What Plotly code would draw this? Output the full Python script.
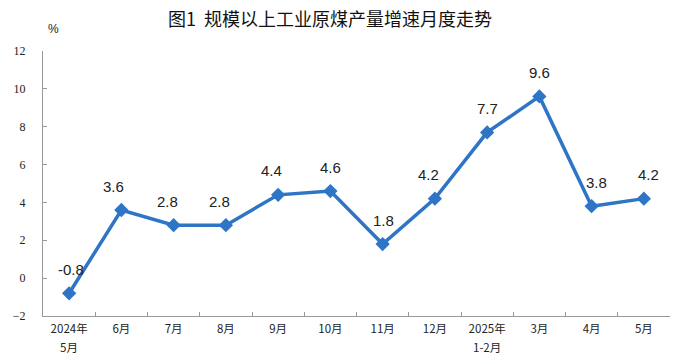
import plotly.graph_objects as go

categories = ["2024年5月", "6月", "7月", "8月", "9月", "10月", "11月", "12月",
              "2025年1-2月", "3月", "4月", "5月"]
tick_line1 = ["2024年", "6月", "7月", "8月", "9月", "10月", "11月", "12月",
              "2025年", "3月", "4月", "5月"]
tick_line2 = ["5月", "", "", "", "", "", "", "", "1-2月", "", "", ""]
values = [-0.8, 3.6, 2.8, 2.8, 4.4, 4.6, 1.8, 4.2, 7.7, 9.6, 3.8, 4.2]
label_text = ["-0.8", "3.6", "2.8", "2.8", "4.4", "4.6", "1.8", "4.2", "7.7", "9.6", "3.8", "4.2"]
y_ticks = [-2, 0, 2, 4, 6, 8, 10, 12]

xshifts = [2, -8, -6, -6, -7, 0, 1, -6, 0, 0, 5, 5]

line_color = "#2E75C6"
tick_font = dict(family="Noto Sans CJK SC", size=11.5, color="#222")

fig = go.Figure()
fig.add_trace(go.Scatter(
    x=categories, y=values, mode="lines+markers",
    line=dict(color=line_color, width=3.5),
    marker=dict(symbol="diamond", size=11, color=line_color),
    hoverinfo="skip", showlegend=False,
))

for c, v, t, xs in zip(categories, values, label_text, xshifts):
    fig.add_annotation(x=c, y=v, text=t, showarrow=False, yshift=24, xshift=xs,
                       font=dict(family="Liberation Sans, Arial", size=15, color="#222"))

for c, t in zip(categories, tick_line2):
    if t:
        fig.add_annotation(x=c, xref="x", y=0, yref="paper", yanchor="top",
                           text=t, showarrow=False, yshift=-21, font=tick_font)

fig.add_annotation(xref="paper", yref="paper", x=0.0, y=1.0, yshift=31, xshift=3,
                   text="%", showarrow=False,
                   font=dict(family="Liberation Sans, Arial", size=12, color="#222"))

fig.update_layout(
    width=675, height=364,
    margin=dict(l=43, r=5, t=51, b=48),
    paper_bgcolor="white", plot_bgcolor="white",
    title=dict(text="图1  规模以上工业原煤产量增速月度走势", x=0.489, xanchor="center",
               y=0.945, yanchor="middle",
               font=dict(family="Noto Sans CJK SC", size=18, color="#111")),
    xaxis=dict(
        type="category", showgrid=False, zeroline=False,
        range=[-0.5, len(categories) - 0.5],
        showline=True, linecolor="#999", linewidth=1,
        ticks="inside", tickson="boundaries", ticklen=4, tickcolor="#999",
        tickmode="array", tickvals=categories, ticktext=tick_line1,
        tickfont=tick_font, ticklabelstandoff=2,
    ),
    yaxis=dict(
        range=[-2, 12], tickvals=y_ticks, showgrid=False, zeroline=False,
        showline=True, linecolor="#999", linewidth=1,
        ticks="inside", ticklen=4, tickcolor="#999",
        ticklabelstandoff=14,
        tickfont=dict(family="Liberation Serif, Times New Roman", size=12, color="#222"),
    ),
)

fig.write_html("out.html", config={"displayModeBar": False},
               post_script="document.body.style.margin='0';")
